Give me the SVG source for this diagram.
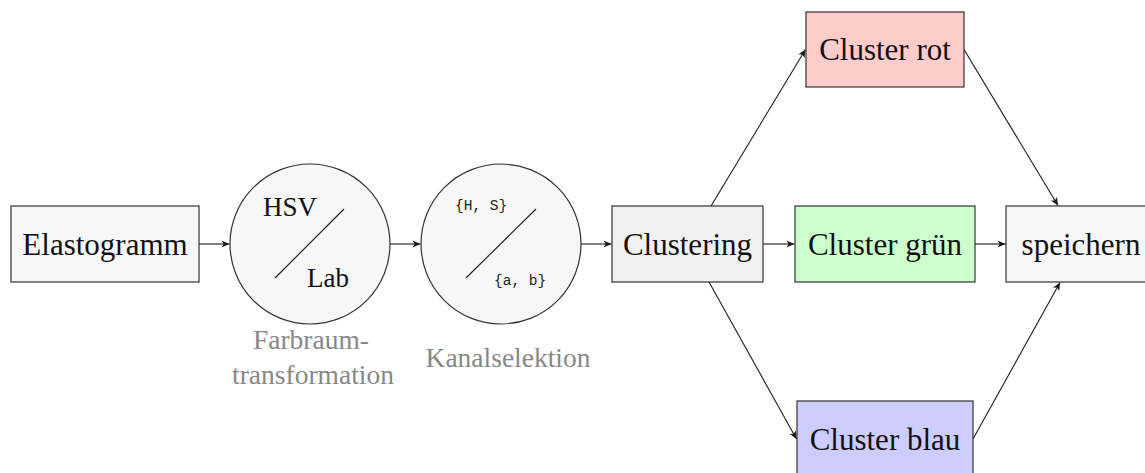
<svg xmlns="http://www.w3.org/2000/svg" width="1145" height="473" viewBox="0 0 1145 473">
  <style>
    .box { stroke: #333333; stroke-width: 1.2; }
    .lbl { font-family: "Liberation Serif", "Times New Roman", serif; font-size: 31px; fill: #111111; text-anchor: middle; }
    .mid { font-family: "Liberation Serif", "Times New Roman", serif; font-size: 27px; fill: #111111; }
    .tt { font-family: "Liberation Mono", "Courier New", monospace; font-size: 14.5px; fill: #222222; }
    .cap { font-family: "Liberation Serif", "Times New Roman", serif; font-size: 27.5px; fill: #888888; text-anchor: middle; }
    .edge { stroke: #1a1a1a; stroke-width: 1.1; fill: none; marker-end: url(#tip); }
    .slash { stroke: #1a1a1a; stroke-width: 1.1; }
  </style>
  <defs>
    <marker id="tip" markerUnits="userSpaceOnUse" markerWidth="12" markerHeight="10" refX="0" refY="0" viewBox="-9 -5 10 10" orient="auto">
      <path d="M0,0 L-8,-3.6 L-5.8,0 L-8,3.6 Z" fill="#1a1a1a"/>
    </marker>
  </defs>

  <rect width="1145" height="473" fill="#ffffff"/>

  <!-- connectors -->
  <g id="connectors">
    <line class="edge" x1="199" y1="244" x2="229.5" y2="244"/>
    <line class="edge" x1="390" y1="244" x2="420.5" y2="244"/>
    <line class="edge" x1="581" y1="244" x2="611.5" y2="244"/>
    <line class="edge" x1="763" y1="244" x2="794.5" y2="244"/>
    <line class="edge" x1="975" y1="244" x2="1005.5" y2="244"/>
    <line class="edge" x1="711" y1="206" x2="805.5" y2="49.5"/>
    <line class="edge" x1="709" y1="282" x2="796.5" y2="439"/>
    <line class="edge" x1="964" y1="49.5" x2="1058" y2="205.5"/>
    <line class="edge" x1="973" y1="439" x2="1060" y2="282.5"/>
  </g>

  <!-- input image -->
  <g id="elastogramm">
    <rect class="box" x="11" y="206" width="188" height="76" fill="#f7f7f7"/>
    <text class="lbl" x="105" y="255">Elastogramm</text>
  </g>

  <!-- colour space transform -->
  <g id="farbraum">
    <circle class="box" cx="310" cy="244" r="80" fill="#f7f7f7"/>
    <line class="slash" x1="275" y1="278" x2="344" y2="209"/>
    <text class="mid" x="263" y="216">HSV</text>
    <text class="mid" x="307" y="287">Lab</text>
    <text class="cap" x="311" y="349">Farbraum-</text>
    <text class="cap" x="313" y="384">transformation</text>
  </g>

  <!-- channel selection -->
  <g id="kanal">
    <circle class="box" cx="501" cy="244" r="80" fill="#f7f7f7"/>
    <line class="slash" x1="466" y1="278" x2="536" y2="209"/>
    <text class="tt" x="455" y="210">{H, S}</text>
    <text class="tt" x="494" y="285">{a, b}</text>
    <text class="cap" x="508" y="367">Kanalselektion</text>
  </g>

  <g id="clustering">
    <rect class="box" x="612" y="206" width="151" height="76" fill="#f0f0f0"/>
    <text class="lbl" x="687.5" y="255">Clustering</text>
  </g>

  <g id="cluster-rot">
    <rect class="box" x="806" y="12" width="158" height="75" fill="#ffcccc"/>
    <text class="lbl" x="885" y="60">Cluster rot</text>
  </g>

  <g id="cluster-gruen">
    <rect class="box" x="795" y="206" width="180" height="76" fill="#ccffcc"/>
    <text class="lbl" x="885" y="255">Cluster grün</text>
  </g>

  <g id="cluster-blau">
    <rect class="box" x="797" y="401" width="176" height="76" fill="#ccccff"/>
    <text class="lbl" x="885" y="450">Cluster blau</text>
  </g>

  <g id="speichern">
    <rect class="box" x="1006" y="206" width="150" height="76" fill="#f7f7f7"/>
    <text class="lbl" x="1081" y="255">speichern</text>
  </g>
</svg>
